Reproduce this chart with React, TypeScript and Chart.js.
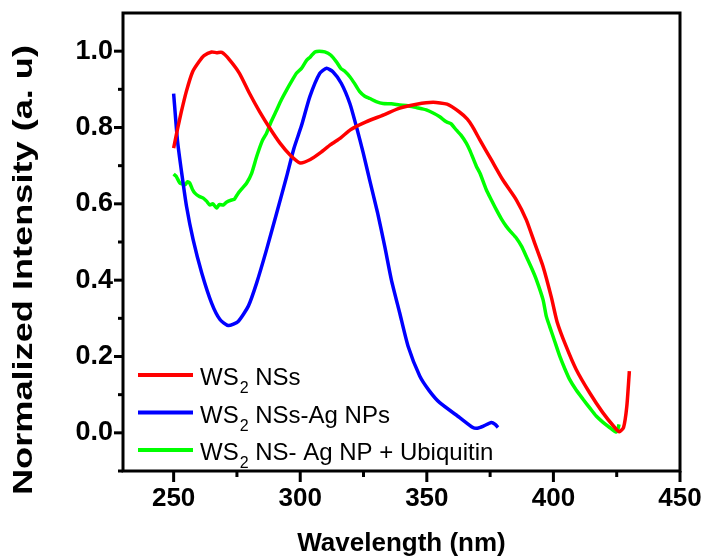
import React, { useEffect, useRef } from "react";
import { Chart, registerables } from "chart.js";

Chart.register(...registerables);

// ---------- data ----------
const SERIES_LABELS = ["WS2 NSs", "WS2 NSs-Ag NPs", "WS2 NS- Ag NP + Ubiquitin"];
const SERIES_COLORS = ["#FF0000", "#0000FF", "#00FF00"];

const RED_X = [250, 251.5, 253, 255, 257.5, 260, 262, 265, 267, 269, 272, 276, 280, 284, 288, 292, 296, 300, 304, 308, 312, 316, 320, 326, 333, 339, 346, 352.5, 358, 363, 366, 368, 371, 375.5, 380, 385.4, 389.3, 392.6, 395.9, 399.2, 401.5, 405, 409, 414.3, 419.5, 424.2, 426, 427.7, 429, 430];
const RED_Y = [0.746, 0.795, 0.84, 0.894, 0.946, 0.972, 0.988, 0.998, 0.996, 0.997, 0.978, 0.942, 0.889, 0.841, 0.798, 0.759, 0.728, 0.707, 0.716, 0.734, 0.755, 0.773, 0.795, 0.815, 0.833, 0.850, 0.861, 0.866, 0.861, 0.840, 0.822, 0.803, 0.767, 0.715, 0.663, 0.610, 0.558, 0.497, 0.436, 0.355, 0.29, 0.227, 0.166, 0.105, 0.053, 0.014, 0.003, 0.014, 0.07, 0.162];

const BLUE_X = [250, 251.5, 253.2, 255.1, 257.7, 261.1, 265, 268.3, 271.6, 275.5, 279.5, 282.8, 286.7, 290.7, 294.6, 297.5, 300.5, 303.8, 307.7, 310.4, 312.9, 316.2, 319.6, 322.2, 324.9, 327.5, 330.5, 333.4, 336, 339.3, 342.6, 347.2, 351, 355.1, 363, 368.2, 370, 372.5, 375.5, 377, 378.1];
const BLUE_Y = [0.889, 0.767, 0.68, 0.593, 0.506, 0.419, 0.34, 0.297, 0.281, 0.292, 0.332, 0.393, 0.48, 0.576, 0.671, 0.745, 0.805, 0.881, 0.942, 0.955, 0.946, 0.916, 0.863, 0.802, 0.733, 0.66, 0.578, 0.488, 0.401, 0.314, 0.227, 0.149, 0.11, 0.079, 0.04, 0.014, 0.012, 0.018, 0.027, 0.022, 0.014];

const GREEN_X = [250, 251, 252.5, 253.5, 254.5, 255.5, 256.4, 257.5, 258.4, 260, 261.7, 263, 264.3, 265.5, 267, 268, 269.6, 271, 272.9, 274, 275.5, 277, 278.8, 280.8, 282.8, 285, 286.7, 288.5, 290.7, 292.5, 294.6, 296.5, 298.5, 300.5, 302.5, 304, 305.8, 307.5, 309.7, 312, 314.3, 316, 317.5, 319.6, 321.5, 323.5, 325.5, 327.5, 330, 332.7, 336, 339.3, 342.5, 345.9, 348, 349.8, 352.5, 355.1, 357.7, 359.5, 361.7, 363.5, 365.6, 367, 369.6, 371, 373.5, 375.5, 377.5, 379.5, 381.4, 383, 385.4, 387.5, 389.3, 391.5, 393.3, 395.9, 397.2, 398.5, 400.5, 402.5, 404.5, 406.4, 409, 411.7, 414.5, 416.9, 419.5, 422.2, 424.8, 425.5, 425.9];
const GREEN_Y = [0.678, 0.672, 0.654, 0.652, 0.65, 0.658, 0.654, 0.637, 0.628, 0.62, 0.615, 0.607, 0.597, 0.6, 0.589, 0.598, 0.597, 0.605, 0.61, 0.612, 0.628, 0.64, 0.654, 0.68, 0.724, 0.765, 0.785, 0.815, 0.846, 0.872, 0.898, 0.92, 0.942, 0.955, 0.976, 0.985, 0.998, 1.0, 0.998, 0.99, 0.972, 0.955, 0.948, 0.933, 0.915, 0.894, 0.882, 0.876, 0.868, 0.863, 0.862, 0.859, 0.857, 0.852, 0.849, 0.846, 0.838, 0.828, 0.815, 0.81, 0.793, 0.78, 0.759, 0.74, 0.698, 0.68, 0.637, 0.61, 0.584, 0.56, 0.541, 0.528, 0.51, 0.488, 0.462, 0.43, 0.401, 0.349, 0.305, 0.279, 0.24, 0.201, 0.168, 0.14, 0.112, 0.088, 0.064, 0.044, 0.028, 0.014, 0.002, 0.01, 0.022];

const X_TICKS = [250, 300, 350, 400, 450];
const X_MINOR = [275, 325, 375, 425];
const Y_TICKS = [0.0, 0.2, 0.4, 0.6, 0.8, 1.0];
const Y_MINOR = [-0.1, 0.1, 0.3, 0.5, 0.7, 0.9];

const X_TITLE = "Wavelength (nm)";
const Y_TITLE = "Normalized Intensity (a. u)";

const FONT = "'Liberation Sans', Arial, sans-serif";

const toPoints = (xs: number[], ys: number[]) => xs.map((x, i) => ({ x, y: ys[i] }));

const framePlugin = {
  id: "frame",
  afterDraw(chart: any) {
    const { ctx, chartArea: a, scales } = chart;
    const xs = scales.x;
    const ys = scales.y;
    ctx.save();
    ctx.strokeStyle = "#000";
    ctx.lineWidth = 3;
    ctx.lineCap = "butt";
    ctx.strokeRect(a.left, a.top, a.right - a.left, a.bottom - a.top);
    const seg = (x1: number, y1: number, x2: number, y2: number) => {
      ctx.beginPath();
      ctx.moveTo(x1, y1);
      ctx.lineTo(x2, y2);
      ctx.stroke();
    };
    X_TICKS.forEach((v) => {
      const p = xs.getPixelForValue(v);
      seg(p, a.bottom, p, a.bottom + 11);
    });
    X_MINOR.forEach((v) => {
      const p = xs.getPixelForValue(v);
      seg(p, a.bottom, p, a.bottom + 6);
    });
    Y_TICKS.forEach((v) => {
      const p = ys.getPixelForValue(v);
      seg(a.left, p, a.left - 9, p);
    });
    Y_MINOR.forEach((v) => {
      const p = ys.getPixelForValue(v);
      seg(a.left, p, a.left - 5, p);
    });

    // y axis title (stretched along its length like the original)
    ctx.save();
    ctx.fillStyle = "#000";
    ctx.font = `bold 27px ${FONT}`;
    const w = ctx.measureText(Y_TITLE).width;
    const targetLen = 450;
    ctx.translate(32, 270);
    ctx.rotate(-Math.PI / 2);
    ctx.scale(targetLen / w, 1);
    ctx.textAlign = "center";
    ctx.textBaseline = "alphabetic";
    ctx.fillText(Y_TITLE, 0, 0);
    ctx.restore();

    // legend
    const n = SERIES_LABELS.length;
    SERIES_LABELS.forEach((label, i) => {
      const ly = a.bottom - 21 - (n - 1 - i) * 37.5;
      ctx.strokeStyle = SERIES_COLORS[i];
      ctx.lineWidth = 4;
      seg(a.left + 15, ly, a.left + 70, ly);
      const m = label.match(/^(WS)(2)(.*)$/);
      let tx = a.left + 77;
      ctx.fillStyle = "#000";
      ctx.textAlign = "left";
      ctx.textBaseline = "alphabetic";
      if (m) {
        ctx.font = `24px ${FONT}`;
        ctx.fillText(m[1], tx, ly + 10);
        tx += ctx.measureText(m[1]).width + 1;
        ctx.font = `16px ${FONT}`;
        ctx.fillText(m[2], tx, ly + 18);
        tx += ctx.measureText(m[2]).width;
        ctx.font = `24px ${FONT}`;
        ctx.fillText(m[3], tx, ly + 10);
      } else {
        ctx.font = `24px ${FONT}`;
        ctx.fillText(label, tx, ly + 10);
      }
    });
    ctx.restore();
  },
};

export default function App() {
  const ref = useRef<HTMLCanvasElement | null>(null);
  useEffect(() => {
    if (!ref.current) return;
    const series = [
      toPoints(RED_X, RED_Y),
      toPoints(BLUE_X, BLUE_Y),
      toPoints(GREEN_X, GREEN_Y),
    ];
    const chart = new Chart(ref.current, {
      type: "scatter",
      data: {
        datasets: series.map((d, i) => ({
          label: SERIES_LABELS[i],
          data: d,
          showLine: true,
          borderColor: SERIES_COLORS[i],
          backgroundColor: SERIES_COLORS[i],
          borderWidth: 3.5,
          pointRadius: 0,
          tension: 0.2,
        })),
      },
      options: {
        responsive: false,
        animation: false,
        layout: { padding: { top: 13, right: 24, left: 0, bottom: 0 } },
        plugins: { legend: { display: false }, tooltip: { enabled: false } },
        scales: {
          x: {
            type: "linear",
            min: 230,
            max: 450,
            afterFit: (s: any) => {
              s.height = 88;
              s.paddingLeft = 0;
              s.paddingRight = 0;
              s.paddingTop = 0;
              s.paddingBottom = 0;
            },
            afterBuildTicks: (s: any) => {
              s.ticks = X_TICKS.map((v) => ({ value: v }));
            },
            grid: { display: false, drawTicks: false },
            border: { display: false },
            ticks: {
              padding: 12,
              color: "#000",
              font: { family: FONT, size: 26, weight: "bold" },
              callback: (v: any) => String(v),
            },
            title: {
              display: true,
              text: X_TITLE,
              color: "#000",
              padding: { top: 0, bottom: 0 },
              font: { family: FONT, size: 26, weight: "bold" },
            },
          },
          y: {
            type: "linear",
            min: -0.1,
            max: 1.1,
            afterFit: (s: any) => {
              s.width = 123;
              s.paddingLeft = 0;
              s.paddingRight = 0;
              s.paddingTop = 0;
              s.paddingBottom = 0;
            },
            afterBuildTicks: (s: any) => {
              s.ticks = Y_TICKS.map((v) => ({ value: v }));
            },
            grid: { display: false, drawTicks: false },
            border: { display: false },
            ticks: {
              padding: 10,
              color: "#000",
              font: { family: FONT, size: 27, weight: "bold" },
              callback: (v: any) => Number(v).toFixed(1),
            },
          },
        },
      },
      plugins: [framePlugin],
    });
    return () => chart.destroy();
  }, []);
  return (
    <div style={{ position: "absolute", left: 0, top: 0, width: 704, height: 559, background: "#fff" }}>
      <canvas ref={ref} width={704} height={559} style={{ display: "block", width: 704, height: 559 }} />
    </div>
  );
}
